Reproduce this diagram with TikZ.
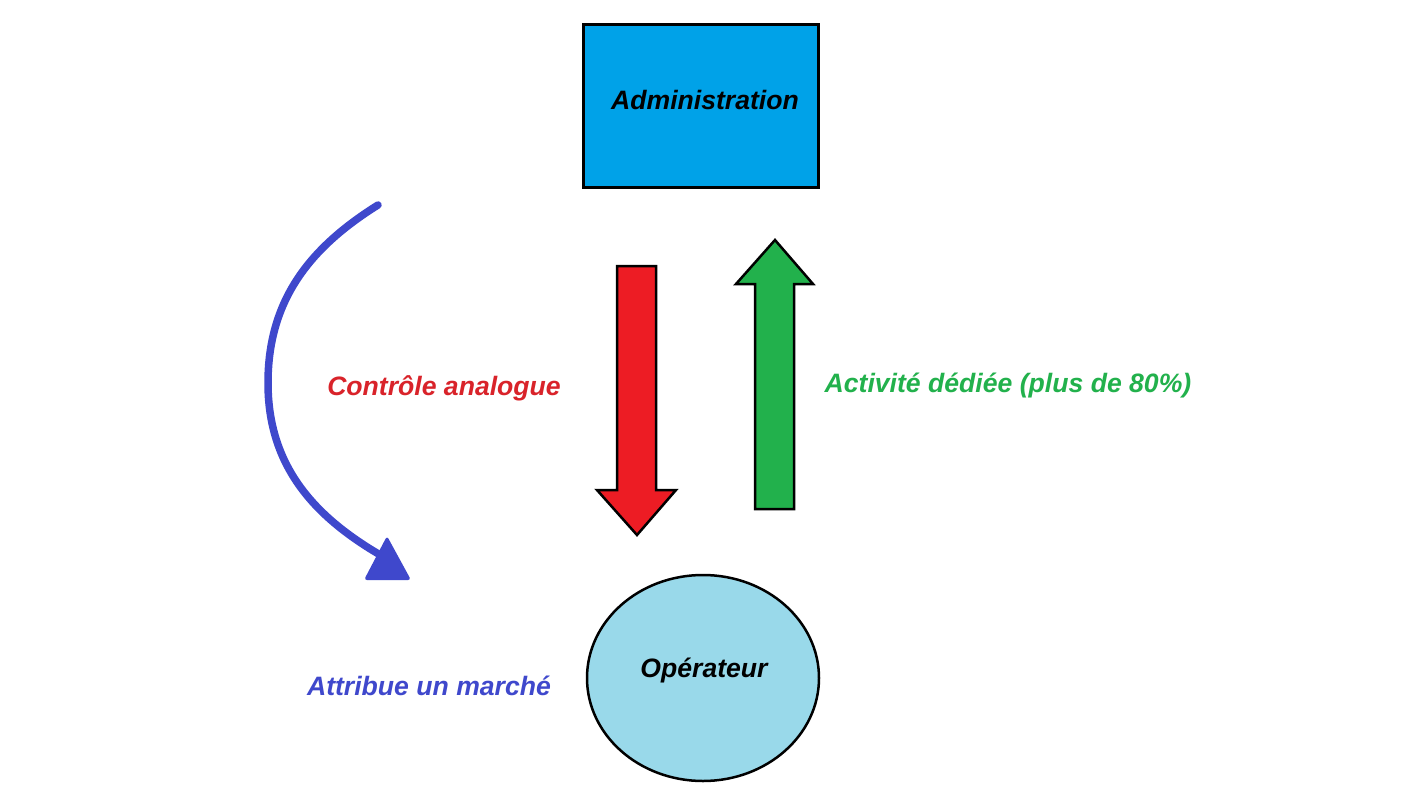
\documentclass[tikz,border=0pt]{standalone}
\usepackage{fontspec}
\setmainfont{Liberation Sans}
\definecolor{adminblue}{HTML}{00A2E8}
\definecolor{opblue}{HTML}{99D9EA}
\definecolor{arrred}{HTML}{ED1C24}
\definecolor{arrgreen}{HTML}{22B14C}
\definecolor{curveblue}{HTML}{3F48CC}
\definecolor{txtred}{HTML}{D9232A}
\begin{document}
\begin{tikzpicture}[x=1pt,y=-1pt,
  lbl/.style={font=\fontsize{26.6}{30}\selectfont\bfseries\itshape, anchor=base, inner sep=0pt},
  blockarrow/.style={draw=black, line width=2.5pt, line join=miter}]
\useasboundingbox (0,0) rectangle (1428,800);
\fill[white] (0,0) rectangle (1428,800);
% Administration box
\draw[fill=adminblue, line width=3pt] (583,25) rectangle (818,187);
\coordinate (admin) at (705,110);
\node[lbl] (admintext) at (admin) {Administration};
% Operateur ellipse
\draw[fill=opblue, line width=2.5pt] (703,678) ellipse [x radius=116, y radius=103];
\coordinate (op) at (704,677);
\node[lbl] (optext) at (op) {Opérateur};
% Red arrow down
\draw[blockarrow, fill=arrred] (617,266) -- (656,266) -- (656,490) -- (676,490) -- (637,535) -- (597,490) -- (617,490) -- cycle;
% Green arrow up
\draw[blockarrow, fill=arrgreen] (755,509) -- (794,509) -- (794,284) -- (813,284) -- (775,240) -- (736,284) -- (755,284) -- cycle;
% Blue curved arrow
\coordinate (cs) at (378,205);
\coordinate (cm) at (268,383);
\coordinate (ce) at (382,556);
\draw[curveblue, line width=7.5pt, line cap=round] (cs) to[out=212, in=90] (cm) to[out=270, in=150] (ce);
\fill[curveblue, rounded corners=3pt] (387,536) -- (411,580) -- (364,580) -- cycle;
% Labels
\node[lbl, text=txtred] (ctrl) at (444,395) {Contrôle analogue};
\node[lbl, text=arrgreen] (activ) at (1008,392) {Activité dédiée (plus de 80\%)};
\node[lbl, text=curveblue] (attr) at (429,695) {Attribue un marché};
\end{tikzpicture}
\end{document}
